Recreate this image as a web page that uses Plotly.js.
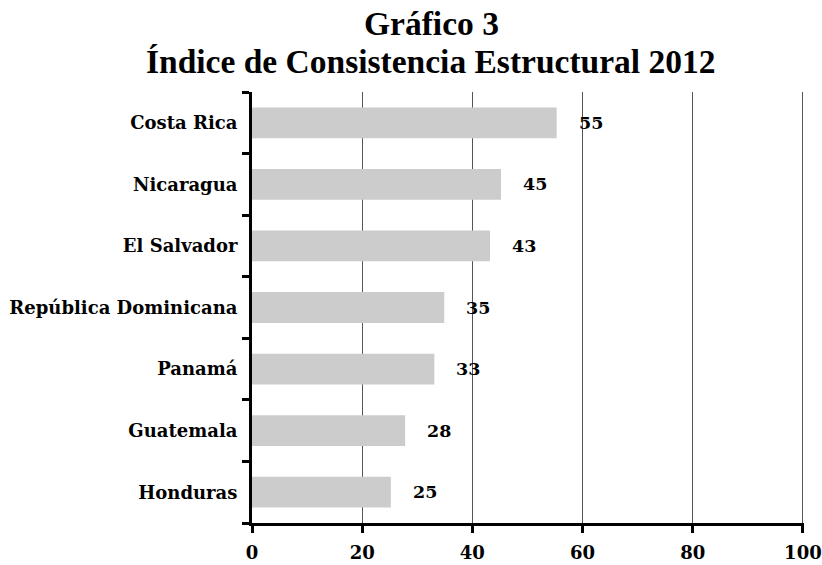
<!DOCTYPE html>
<html>
<head>
<meta charset="utf-8">
<script src="https://cdn.plot.ly/plotly-3.0.1.min.js"></script>
<style>html,body{margin:0;padding:0;background:#fff;}#chart{width:822px;height:565px;}</style>
</head>
<body>
<div id="chart"></div>
<script>
const countries = ["Honduras","Guatemala","Panamá","República Dominicana","El Salvador","Nicaragua","Costa Rica"];
const values = [25.2, 27.8, 33.1, 34.9, 43.2, 45.2, 55.3];
const valueLabels = ["25","28","33","35","43","45","55"];
const xTicks = [0,20,40,60,80,100];
const titleLines = ["Gráfico 3", "Índice de Consistencia Estructural 2012"];

const serif = "DejaVu Serif";
const data = [{
  type: "bar",
  orientation: "h",
  y: countries,
  x: values,
  marker: {color: "#cccccc"},
  width: 0.5,
  hoverinfo: "skip"
}];

const annotations = countries.map((c, i) => ({
  x: values[i], y: c, xref: "x", yref: "y",
  text: valueLabels[i], showarrow: false,
  xanchor: "left", xshift: 20,
  font: {family: serif, size: 17.5, color: "#000", weight: "bold"}
}));
titleLines.forEach((t, i) => annotations.push({
  x: 0.325, y: 1, xref: "paper", yref: "paper",
  xanchor: "center", yanchor: "middle", yshift: i === 0 ? 69 : 31,
  text: t, showarrow: false,
  font: {family: "Liberation Serif", size: 33.5, color: "#000", weight: "bold"}
}));

const layout = {
  width: 822, height: 565,
  margin: {l: 252, r: 18, t: 92, b: 42},
  paper_bgcolor: "#fff", plot_bgcolor: "#fff",
  showlegend: false,
  bargap: 0.5,
  xaxis: {
    range: [0, 100.2], tickmode: "array", tickvals: xTicks, ticktext: xTicks.map(String),
    showgrid: true, gridcolor: "#555", gridwidth: 1,
    showline: true, linecolor: "#000", linewidth: 3,
    ticks: "outside", ticklen: 7, tickwidth: 3, tickcolor: "#000",
    zeroline: false, fixedrange: true, ticklabelstandoff: 4,
    tickfont: {family: serif, size: 18, color: "#000", weight: "bold"}
  },
  yaxis: {
    type: "category", categoryorder: "array", categoryarray: countries,
    showline: true, linecolor: "#000", linewidth: 3,
    ticks: "outside", tickson: "boundaries", ticklen: 7, tickwidth: 3, tickcolor: "#000",
    showgrid: false, zeroline: false, fixedrange: true,
    ticklabelstandoff: 8,
    tickfont: {family: serif, size: 18, color: "#000", weight: "bold"}
  },
  annotations: annotations
};

Plotly.newPlot("chart", data, layout, {displayModeBar: false, staticPlot: true});
</script>
</body>
</html>
